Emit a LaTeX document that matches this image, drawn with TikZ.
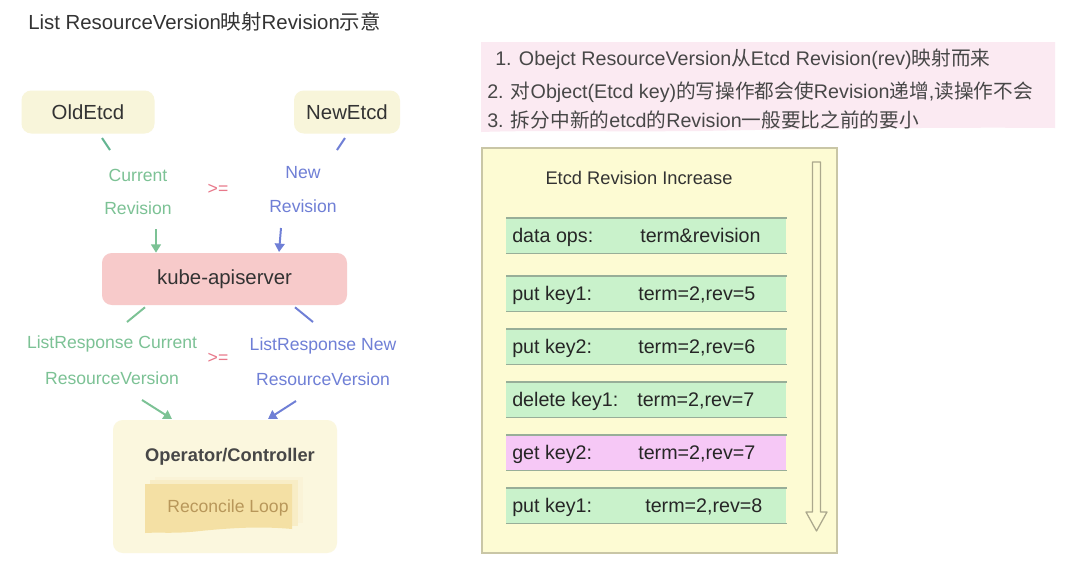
\documentclass[tikz,border=0pt]{standalone}
\usepackage{fontspec}
\setmainfont{Liberation Sans}
\newfontfamily\cjk{Noto Sans CJK SC}
\usetikzlibrary{arrows.meta}
\definecolor{etcdfill}{HTML}{F8F5DA}
\definecolor{apifill}{HTML}{F7CACA}
\definecolor{gtxt}{HTML}{7CC295}
\definecolor{btxt}{HTML}{6F7FD6}
\definecolor{ptxt}{HTML}{E8788A}
\definecolor{opfill}{HTML}{FBF7DE}
\definecolor{recfront}{HTML}{F4E0A4}
\definecolor{recback}{HTML}{F8EDC6}
\definecolor{rectxt}{HTML}{B8975A}
\definecolor{notefill}{HTML}{FBEAF2}
\definecolor{bigfill}{HTML}{FDFBD3}
\definecolor{bigline}{HTML}{C9C6A6}
\definecolor{rowg}{HTML}{C9F2CB}
\definecolor{rowp}{HTML}{F6C8F6}
\definecolor{rowline}{HTML}{98AE98}
\definecolor{dtxt}{HTML}{333333}
\tikzset{
  softbox/.style={rounded corners=7pt, draw=none},
  lbl/.style={font=\fontsize{12.5}{14}\selectfont, inner sep=0pt},
  gl/.style={lbl, text=gtxt},
  bl/.style={lbl, text=btxt},
  ge/.style={lbl, text=ptxt},
  gline/.style={draw=gtxt, line width=1.4pt},
  bline/.style={draw=btxt, line width=1.4pt},
  garr/.style={gline, -{Triangle[length=6pt,width=7pt]}},
  barr/.style={bline, -{Triangle[length=6pt,width=7pt]}},
  rowtxt/.style={font=\fontsize{14}{16}\selectfont, text=black!85, inner sep=0pt, anchor=base west},
  rowbox/.style={minimum width=280*0.025cm, minimum height=35*0.025cm, inner sep=0pt, anchor=north west},
  notetxt/.style={font=\fontsize{14}{16}\selectfont, text=dtxt!90, inner sep=0pt, anchor=west},
}
\begin{document}
\begin{tikzpicture}[x=0.025cm, y=-0.025cm]
\useasboundingbox (0,0) rectangle (1080,581);
\fill[white] (0,0) rectangle (1080,581);

% title
\node[anchor=west, inner sep=0pt, font=\fontsize{14.5}{16}\selectfont, text=dtxt] (title) at (28,22)
  {List ResourceVersion{\cjk 映射}Revision{\cjk 示意}};

% etcd boxes
\node[softbox, fill=etcdfill, minimum width=133*0.025cm, minimum height=43*0.025cm,
  font=\fontsize{14.5}{16}\selectfont, text=dtxt] (old) at (88,112) {OldEtcd};
\node[softbox, fill=etcdfill, minimum width=106*0.025cm, minimum height=43*0.025cm,
  font=\fontsize{14.5}{16}\selectfont, text=dtxt] (new) at (347,112) {NewEtcd};

\coordinate (oa) at (102,138); \coordinate (ob) at (110,150);
\coordinate (na) at (345,138); \coordinate (nb) at (337,150);
\draw[draw=gtxt!80!teal, line width=1.4pt] (oa) -- (ob);
\draw[bline] (na) -- (nb);

\node[gl] (cur1) at (138,175) {Current};
\node[gl] (cur2) at (138,208) {Revision};
\node[ge] (ge1) at (218,189) {>=};
\node[bl] (new1) at (303,173) {New};
\node[bl] (new2) at (303,206) {Revision};

% api server
\node[softbox, fill=apifill, minimum width=245*0.025cm, minimum height=52*0.025cm,
  font=\fontsize{14.5}{16}\selectfont, text=dtxt] (api) at (224.5,279) {kube-apiserver};

\coordinate (g1) at (156,229);
\coordinate (b1) at (281,228);
\draw[garr] (g1) -- (api.north -| g1);
\draw[barr] (b1) -- (279,252);

\coordinate (g2) at (127,322);
\coordinate (b2) at (313,322);
\draw[gline] (api.south -| 145,0) ++(0,2) -- (g2);
\draw[bline] (api.south -| 295,0) ++(0,2) -- (b2);

\node[gl] (lr1) at (112,344) {ListResponse Current};
\node[gl] (lr2) at (112,378) {ResourceVersion};
\node[ge] (ge2) at (218,358) {>=};
\node[bl] (lr3) at (323,346) {ListResponse New};
\node[bl] (lr4) at (323,379) {ResourceVersion};

% operator box
\node[softbox, fill=opfill, minimum width=224*0.025cm, minimum height=133*0.025cm] (op) at (225,486.5) {};
\node[inner sep=0pt, font=\bfseries\fontsize{13}{15}\selectfont, text=dtxt!90] (optitle) at (230,457) {Operator/Controller};

\coordinate (g3) at (142,400);
\coordinate (b3) at (296,401);
\draw[garr] (g3) -- (172,419);
\draw[barr] (b3) -- (268,419);

% reconcile loop stack
\fill[recback!70] (155,477) rectangle (303,523);
\fill[recback] (150,480) rectangle (298,526);
\fill[recfront] (145,484) -- (292,484) -- (292,529)
  .. controls (260,526) and (230,528) .. (200,531)
  .. controls (175,534) and (160,532) .. (145,533) -- cycle;
\node[inner sep=0pt, font=\fontsize{12.5}{14}\selectfont, text=rectxt] (rec) at (228,508) {Reconcile Loop};

% note box
\fill[notefill] (481,42) -- (1055,42) -- (1055,128)
  .. controls (950,127) and (800,129) .. (700,131)
  .. controls (600,132) and (540,130) .. (481,132) -- cycle;
\node[notetxt] (n1) at (495,59) {1. Obejct ResourceVersion{\cjk 从}Etcd Revision(rev){\cjk 映射而来}};
\node[notetxt] (n2) at (487,92) {2. {\cjk 对}Object(Etcd key){\cjk 的写操作都会使}Revision{\cjk 递增},{\cjk 读操作不会}};
\node[notetxt] (n3) at (487,120) {3. {\cjk 拆分中新的}etcd{\cjk 的}Revision{\cjk 一般要比之前的要小}};

% big yellow box
\draw[fill=bigfill, draw=bigline, line width=0.9pt] (482,148) rectangle (837,553);
\node[inner sep=0pt, font=\fontsize{13}{15}\selectfont, text=dtxt] (inc) at (639,178) {Etcd Revision Increase};

% rows
\foreach \y/\c/\a/\b/\bx [count=\i] in {
  218/rowg/{data ops:}/{term\&revision}/640,
  276/rowg/{put key1:}/{term=2,rev=5}/638,
  329/rowg/{put key2:}/{term=2,rev=6}/638,
  382/rowg/{delete key1:}/{term=2,rev=7}/637,
  435/rowp/{get key2:}/{term=2,rev=7}/638,
  488/rowg/{put key1:}/{term=2,rev=8}/645} {
  \node[rowbox, fill=\c] (row\i) at (506,\y) {};
  \draw[rowline, line width=0.9pt] (row\i.north west) -- (row\i.north east);
  \draw[rowline, line width=0.9pt] (row\i.south west) -- (row\i.south east);
  \node[rowtxt] (rowa\i) at (512,\y+24.5) {\a};
  \node[rowtxt] (rowb\i) at (\bx,\y+24.5) {\b};
}

% down arrow
\draw[fill=bigfill, draw=bigline!85!black, line width=0.9pt, line join=round]
  (812.5,162) -- (820.5,162) -- (820.5,512) -- (827,512) -- (816.5,531)
  -- (806,512) -- (812.5,512) -- cycle;
\end{tikzpicture}
\end{document}
